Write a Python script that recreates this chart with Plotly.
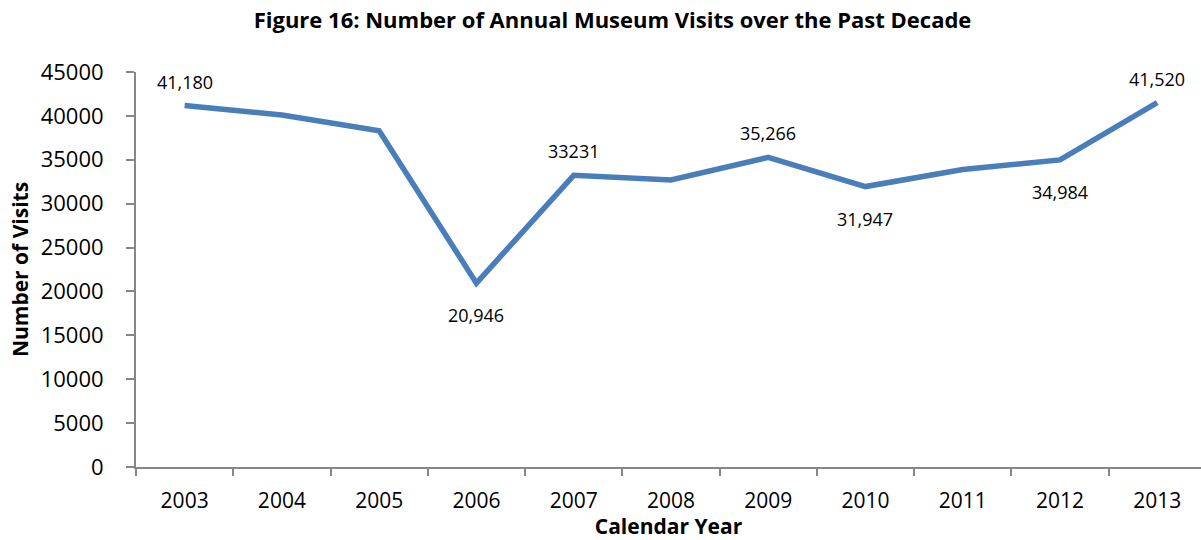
import plotly.graph_objects as go

# Annual museum visits, 2003-2013
years = ["2003", "2004", "2005", "2006", "2007", "2008", "2009", "2010", "2011", "2012", "2013"]
visits = [41180, 40100, 38300, 20946, 33231, 32700, 35266, 31947, 33900, 34984, 41520]

# Labelled points: index, text, placement
label_idx = [0, 3, 4, 6, 7, 9, 10]
label_text = ["41,180", "20,946", "33231", "35,266", "31,947", "34,984", "41,520"]
label_side = ["above", "below", "above", "above", "below", "below", "above"]

y_ticks = [0, 5000, 10000, 15000, 20000, 25000, 30000, 35000, 40000, 45000]

FONT = "Open Sans"
AXIS_GREY = "#868686"

fig = go.Figure()
fig.add_trace(go.Scatter(
    x=years, y=visits, mode="lines",
    line=dict(color="#4a7ebb", width=5.5),
    hoverinfo="x+y", showlegend=False,
))

# category axis: annotations are placed by category index
for i, txt, side in zip(label_idx, label_text, label_side):
    fig.add_annotation(
        x=i, y=visits[i], xref="x", yref="y", text=txt, showarrow=False,
        yshift=24 if side == "above" else -32,
        font=dict(family=FONT, size=18, color="#000000"),
    )

fig.update_layout(
    width=1201, height=540,
    margin=dict(l=136, r=0, t=72, b=73),
    paper_bgcolor="white", plot_bgcolor="white",
    title=dict(
        text="<b>Figure 16: Number of Annual Museum Visits over the Past Decade</b>",
        x=0.51, xanchor="center", y=0.963, yanchor="middle",
        font=dict(family=FONT, size=22, color="#000000"),
    ),
    xaxis=dict(
        type="category", range=[-0.5, 10.45],
        showline=True, linecolor=AXIS_GREY, linewidth=2,
        ticks="outside", tickson="boundaries", ticklen=7, tickwidth=2, tickcolor=AXIS_GREY,
        tickfont=dict(family=FONT, size=21, color="#000000"),
        ticklabelstandoff=14,
        showgrid=False, zeroline=False,
        title=dict(text="<b>Calendar Year</b>", font=dict(family=FONT, size=21, color="#000000"), standoff=7),
    ),
    yaxis=dict(
        range=[0, 45000], tickvals=y_ticks, tickformat="d",
        showline=True, linecolor=AXIS_GREY, linewidth=2,
        ticks="outside", ticklen=8, tickwidth=2, tickcolor=AXIS_GREY,
        tickfont=dict(family=FONT, size=22, color="#000000"),
        ticklabelstandoff=18,
        showgrid=False, zeroline=False,
        title=dict(text="<b>Number of Visits</b>", font=dict(family=FONT, size=21, color="#000000"), standoff=6),
    ),
)

fig.write_html("out.html")
